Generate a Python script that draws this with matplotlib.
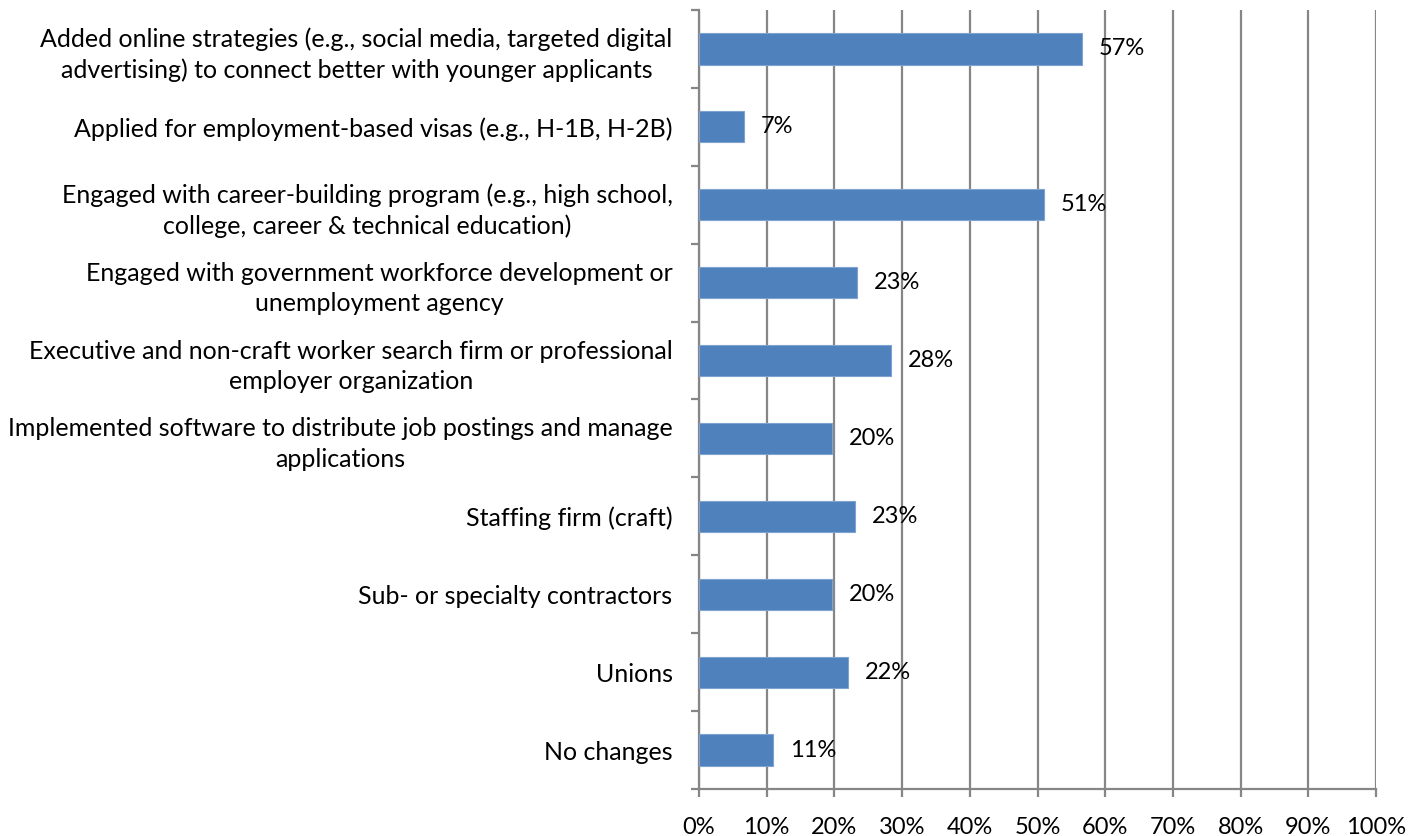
import matplotlib
matplotlib.use("Agg")
import matplotlib.pyplot as plt
from matplotlib.ticker import FixedLocator

categories = [
    "Added online strategies (e.g., social media, targeted digital\nadvertising) to connect better with younger applicants",
    "Applied for employment-based visas (e.g., H-1B, H-2B)",
    "Engaged with career-building program (e.g., high school,\ncollege, career & technical education)",
    "Engaged with government workforce development or\nunemployment agency",
    "Executive and non-craft worker search firm or professional\nemployer organization",
    "Implemented software to distribute job postings and manage\napplications",
    "Staffing firm (craft)",
    "Sub- or specialty contractors",
    "Unions",
    "No changes",
]
values = [56.5, 6.6, 50.9, 23.3, 28.4, 19.7, 23.1, 19.6, 22.0, 11.0]
value_labels = ["57%", "7%", "51%", "23%", "28%", "20%", "23%", "20%", "22%", "11%"]
xtick_vals = [0, 10, 20, 30, 40, 50, 60, 70, 80, 90, 100]
xtick_labels = [f"{v}%" for v in xtick_vals]

plt.rcParams['font.family'] = ['Lato', 'DejaVu Sans']
FS_CAT = 18
FS = 17
GRAY = "#868686"
BAR = "#4F81BD"

fig = plt.figure(figsize=(14.23, 8.36), dpi=100)
ax = fig.add_axes([699/1423, 1 - 789/836, (1376-699)/1423, (789-10)/836])

n = len(categories)
pos = list(range(n))
ax.barh(pos, values, height=0.4, color=BAR, edgecolor="#7FA3D0", linewidth=0.8, zorder=3)

for p, v, lab in zip(pos, values, value_labels):
    ax.annotate(lab, (v, p), xytext=(12.2, 0), textcoords="offset points",
                va="center", ha="left", fontsize=FS, color="black", zorder=4)

ax.set_xlim(0, 100)
ax.set_ylim(n - 0.5, -0.5)

ax.set_xticks(xtick_vals)
ax.set_xticklabels(xtick_labels, fontsize=FS)
ax.xaxis.grid(True, color=GRAY, linewidth=1.6, zorder=0)
ax.tick_params(axis="x", length=6, width=1.6, color=GRAY, pad=14)

ax.yaxis.set_major_locator(FixedLocator([i - 0.5 for i in range(n + 1)]))
ax.set_yticklabels([])
ax.yaxis.set_minor_locator(FixedLocator(pos))
ax.set_yticklabels(categories, minor=True, fontsize=FS_CAT, multialignment="center", linespacing=1.38)
ax.tick_params(axis="y", which="major", length=6, width=1.6, color=GRAY)
ax.tick_params(axis="y", which="minor", length=0, pad=19)

for s in ["top", "right"]:
    ax.spines[s].set_visible(False)
for s in ["left", "bottom"]:
    ax.spines[s].set_color(GRAY)
    ax.spines[s].set_linewidth(1.6)

fig.savefig("out.png", dpi=100)
